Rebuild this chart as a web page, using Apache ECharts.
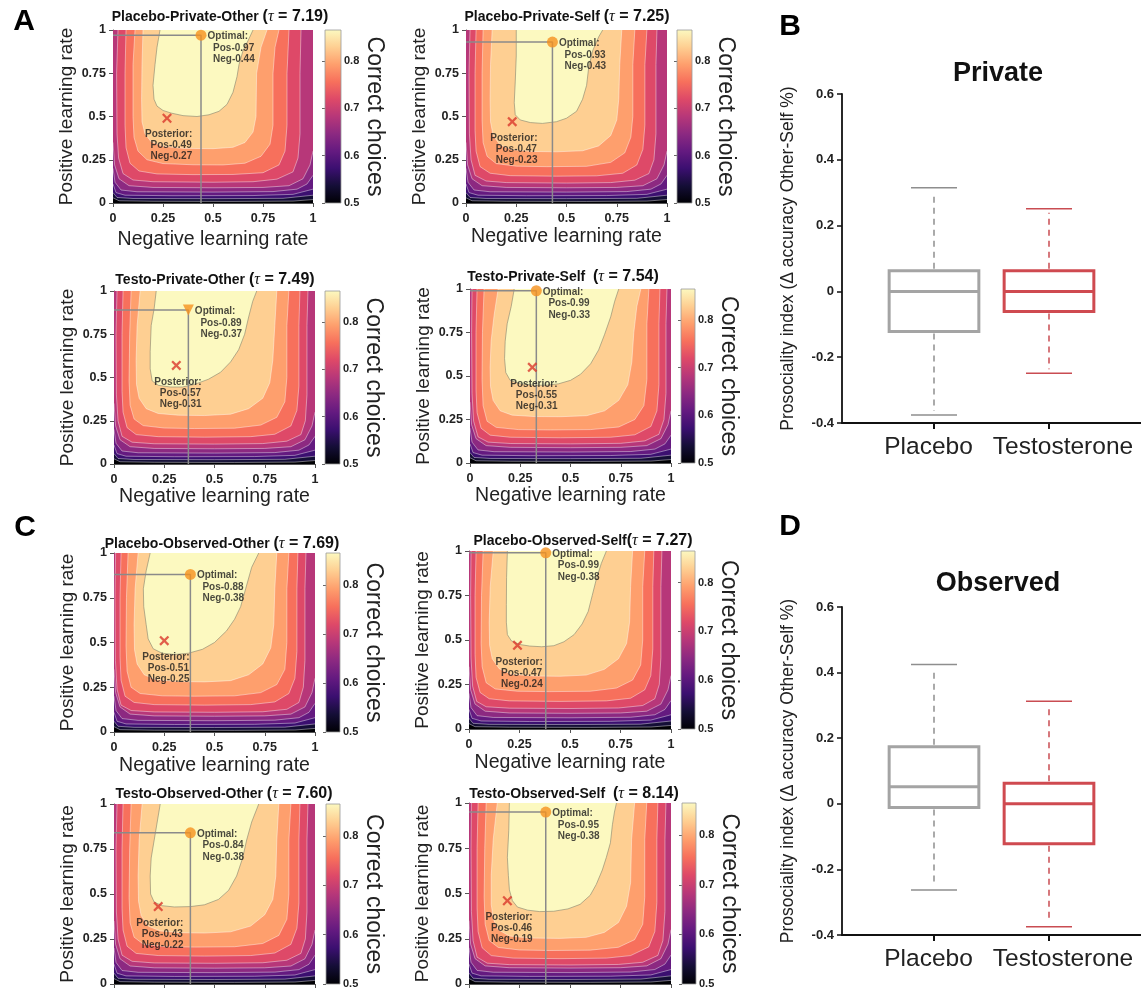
<!DOCTYPE html>
<html><head><meta charset="utf-8">
<script src="https://cdn.jsdelivr.net/npm/echarts@6/dist/echarts.min.js"></script>
<style>html,body{margin:0;padding:0;background:#fff}#c{width:1141px;height:992px}</style>
</head><body><div id="c"></div>
<script>
// ---------------- DATA ----------------
const axisTickValues = [0, 0.25, 0.5, 0.75, 1];
const colorbarRange = [0.5, 0.865];
const colorbarTicks = [0.5, 0.6, 0.7, 0.8];
const magma = ['#000004','#140e36','#3b0f70','#641a80','#8c2981','#b73779','#de4968','#f7705c','#fe9f6d','#fecf92','#fcf9c0'];

const panelNames = ['Placebo-Private-Other','Placebo-Private-Self','Testo-Private-Other','Testo-Private-Self',
                    'Placebo-Observed-Other','Placebo-Observed-Self','Testo-Observed-Other','Testo-Observed-Self'];
const panelSep = [' ',' ',' ','  ',' ','',' ','  '];
const panelTau = ['7.19','7.25','7.49','7.54','7.69','7.27','7.60','8.14'];
const optimalNeg = [0.44, 0.43, 0.37, 0.33, 0.38, 0.38, 0.38, 0.38];
const optimalPos = [0.97, 0.93, 0.89, 0.99, 0.88, 0.99, 0.84, 0.95];
const posteriorNeg = [0.27, 0.23, 0.31, 0.31, 0.25, 0.24, 0.22, 0.19];
const posteriorPos = [0.49, 0.47, 0.57, 0.55, 0.51, 0.47, 0.43, 0.46];

// contour boundaries (region >= level), [neg, pos] points; levels 1..5 shared by all panels
const lowContours = [
  [[0,1],[0,0.03],[0.03,0.013],[0.2,0.01],[0.6,0.009],[0.9,0.011],[1,0.02],[1,1]],
  [[0,1],[0,0.06],[0.02,0.032],[0.1,0.026],[0.5,0.025],[0.85,0.027],[1,0.045],[1,1]],
  [[0,1],[0,0.11],[0.015,0.06],[0.06,0.045],[0.3,0.042],[0.7,0.043],[0.9,0.05],[1,0.08],[1,1]],
  [[0,1],[0,0.2],[0.01,0.12],[0.04,0.075],[0.12,0.065],[0.5,0.063],[0.8,0.066],[0.92,0.08],[0.97,0.11],[1,0.16],[1,1]],
  [[0,1],[0,0.35],[0.008,0.22],[0.03,0.14],[0.08,0.1],[0.2,0.09],[0.5,0.088],[0.75,0.09],[0.88,0.1],[0.95,0.14],[0.985,0.22],[1,0.3],[1,1]]
];
// levels 6..10 for each panel
const contoursA1 = [
  [[0.025,1],[0.018,0.75],[0.02,0.4],[0.028,0.26],[0.05,0.17],[0.1,0.133],[0.2,0.123],[0.5,0.12],[0.7,0.123],[0.82,0.138],[0.9,0.18],[0.925,0.26],[0.935,0.4],[0.935,0.75],[0.94,1]],
  [[0.065,1],[0.06,0.75],[0.06,0.45],[0.065,0.32],[0.085,0.23],[0.13,0.185],[0.22,0.168],[0.4,0.164],[0.6,0.165],[0.75,0.175],[0.83,0.22],[0.86,0.3],[0.87,0.45],[0.87,0.75],[0.88,1]],
  [[0.11,1],[0.1,0.8],[0.1,0.5],[0.105,0.38],[0.125,0.3],[0.17,0.25],[0.25,0.228],[0.4,0.221],[0.55,0.22],[0.66,0.23],[0.74,0.27],[0.785,0.34],[0.8,0.45],[0.8,0.75],[0.81,0.9],[0.83,1]],
  [[0.15,1],[0.145,0.8],[0.143,0.6],[0.145,0.47],[0.16,0.4],[0.19,0.355],[0.25,0.328],[0.35,0.316],[0.5,0.314],[0.6,0.322],[0.66,0.35],[0.7,0.41],[0.715,0.5],[0.718,0.75],[0.74,0.9],[0.77,1]],
  [[0.235,1],[0.22,0.9],[0.21,0.8],[0.2,0.68],[0.205,0.6],[0.22,0.56],[0.25,0.535],[0.29,0.52],[0.35,0.505],[0.42,0.5],[0.48,0.51],[0.53,0.53],[0.57,0.57],[0.6,0.64],[0.62,0.73],[0.63,0.8],[0.65,0.88],[0.68,0.95],[0.7,1]]
];
const contoursA2 = [
  [[0.02,1],[0.015,0.75],[0.017,0.4],[0.025,0.25],[0.045,0.16],[0.1,0.127],[0.2,0.118],[0.5,0.115],[0.72,0.118],[0.84,0.132],[0.91,0.17],[0.935,0.25],[0.945,0.4],[0.945,0.8],[0.95,1]],
  [[0.05,1],[0.045,0.75],[0.045,0.42],[0.05,0.3],[0.07,0.21],[0.12,0.172],[0.22,0.158],[0.45,0.155],[0.65,0.157],[0.78,0.172],[0.85,0.22],[0.88,0.31],[0.89,0.45],[0.89,0.8],[0.9,1]],
  [[0.085,1],[0.08,0.75],[0.08,0.48],[0.085,0.35],[0.105,0.27],[0.15,0.228],[0.25,0.213],[0.4,0.21],[0.6,0.212],[0.72,0.235],[0.79,0.29],[0.82,0.38],[0.83,0.5],[0.83,0.8],[0.84,1]],
  [[0.13,1],[0.122,0.8],[0.12,0.6],[0.122,0.47],[0.135,0.39],[0.17,0.335],[0.23,0.308],[0.33,0.298],[0.45,0.296],[0.58,0.302],[0.66,0.33],[0.72,0.39],[0.75,0.48],[0.76,0.6],[0.765,0.8],[0.775,1]],
  [[0.25,1],[0.25,0.85],[0.245,0.7],[0.24,0.58],[0.245,0.51],[0.27,0.48],[0.32,0.465],[0.38,0.46],[0.45,0.47],[0.5,0.49],[0.55,0.53],[0.58,0.6],[0.6,0.68],[0.61,0.78],[0.63,0.88],[0.66,0.96],[0.68,1]]
];
const contoursA3 = [
  [[0.015,1],[0.01,0.75],[0.012,0.4],[0.02,0.25],[0.04,0.16],[0.09,0.126],[0.2,0.117],[0.5,0.115],[0.74,0.118],[0.86,0.132],[0.93,0.17],[0.952,0.25],[0.96,0.4],[0.96,0.8],[0.965,1]],
  [[0.045,1],[0.04,0.75],[0.04,0.42],[0.045,0.3],[0.065,0.21],[0.11,0.17],[0.22,0.158],[0.45,0.155],[0.68,0.158],[0.8,0.172],[0.88,0.22],[0.91,0.31],[0.92,0.45],[0.92,0.8],[0.925,1]],
  [[0.085,1],[0.078,0.75],[0.075,0.48],[0.08,0.34],[0.1,0.26],[0.145,0.222],[0.25,0.208],[0.4,0.205],[0.6,0.207],[0.73,0.225],[0.81,0.27],[0.85,0.36],[0.86,0.5],[0.86,0.8],[0.87,1]],
  [[0.13,1],[0.115,0.8],[0.11,0.6],[0.112,0.46],[0.125,0.38],[0.16,0.32],[0.22,0.292],[0.32,0.282],[0.45,0.28],[0.58,0.288],[0.67,0.32],[0.74,0.38],[0.775,0.47],[0.79,0.6],[0.8,0.8],[0.81,1]],
  [[0.21,1],[0.2,0.9],[0.185,0.8],[0.18,0.65],[0.18,0.55],[0.19,0.48],[0.22,0.455],[0.28,0.445],[0.34,0.445],[0.4,0.46],[0.47,0.49],[0.53,0.53],[0.58,0.59],[0.62,0.66],[0.65,0.75],[0.67,0.85],[0.69,0.94],[0.71,1]]
];
const contoursA4 = [
  [[0.01,1],[0.008,0.75],[0.01,0.4],[0.018,0.24],[0.04,0.15],[0.09,0.12],[0.2,0.112],[0.5,0.11],[0.75,0.113],[0.87,0.127],[0.94,0.165],[0.965,0.25],[0.975,0.4],[0.975,0.8],[0.98,1]],
  [[0.035,1],[0.03,0.75],[0.03,0.42],[0.035,0.29],[0.055,0.2],[0.1,0.16],[0.2,0.148],[0.45,0.145],[0.7,0.148],[0.82,0.162],[0.9,0.21],[0.93,0.3],[0.94,0.45],[0.94,0.8],[0.945,1]],
  [[0.07,1],[0.062,0.75],[0.06,0.48],[0.065,0.33],[0.085,0.24],[0.13,0.205],[0.24,0.192],[0.4,0.19],[0.6,0.192],[0.74,0.207],[0.82,0.25],[0.865,0.33],[0.88,0.48],[0.88,0.8],[0.89,1]],
  [[0.14,1],[0.12,0.85],[0.105,0.7],[0.1,0.55],[0.102,0.44],[0.115,0.36],[0.15,0.3],[0.21,0.275],[0.32,0.267],[0.45,0.266],[0.58,0.272],[0.67,0.3],[0.74,0.36],[0.785,0.45],[0.805,0.58],[0.815,0.75],[0.83,0.9],[0.85,1]],
  [[0.22,1],[0.205,0.9],[0.185,0.8],[0.175,0.7],[0.172,0.6],[0.178,0.52],[0.2,0.475],[0.25,0.455],[0.32,0.447],[0.38,0.447],[0.44,0.455],[0.5,0.475],[0.55,0.51],[0.6,0.57],[0.64,0.65],[0.67,0.74],[0.7,0.84],[0.72,0.93],[0.74,1]]
];
const contoursC1 = [
  [[0.008,1],[0.005,0.75],[0.007,0.4],[0.015,0.24],[0.035,0.15],[0.085,0.12],[0.2,0.112],[0.5,0.11],[0.74,0.113],[0.86,0.127],[0.92,0.165],[0.942,0.25],[0.95,0.4],[0.95,0.8],[0.955,1]],
  [[0.035,1],[0.03,0.75],[0.03,0.42],[0.035,0.29],[0.055,0.2],[0.1,0.165],[0.2,0.153],[0.45,0.15],[0.68,0.153],[0.8,0.168],[0.87,0.215],[0.9,0.3],[0.91,0.45],[0.91,0.8],[0.915,1]],
  [[0.07,1],[0.062,0.75],[0.06,0.48],[0.065,0.34],[0.085,0.25],[0.13,0.215],[0.24,0.202],[0.4,0.2],[0.6,0.202],[0.73,0.22],[0.81,0.265],[0.85,0.35],[0.86,0.5],[0.86,0.8],[0.87,1]],
  [[0.12,1],[0.105,0.8],[0.1,0.6],[0.102,0.46],[0.115,0.38],[0.15,0.32],[0.21,0.292],[0.32,0.282],[0.45,0.28],[0.58,0.287],[0.67,0.32],[0.74,0.38],[0.78,0.47],[0.795,0.6],[0.8,0.8],[0.81,1]],
  [[0.18,1],[0.16,0.9],[0.146,0.8],[0.148,0.7],[0.16,0.6],[0.17,0.52],[0.195,0.465],[0.24,0.44],[0.3,0.433],[0.37,0.44],[0.44,0.462],[0.5,0.5],[0.56,0.565],[0.6,0.63],[0.63,0.7],[0.655,0.8],[0.685,0.92],[0.72,1]]
];
const contoursC2 = [
  [[0.01,1],[0.008,0.75],[0.01,0.4],[0.018,0.24],[0.038,0.155],[0.085,0.125],[0.2,0.117],[0.5,0.115],[0.74,0.118],[0.86,0.132],[0.92,0.17],[0.942,0.25],[0.95,0.4],[0.95,0.8],[0.955,1]],
  [[0.035,1],[0.03,0.75],[0.03,0.42],[0.035,0.29],[0.055,0.205],[0.1,0.17],[0.2,0.158],[0.45,0.155],[0.68,0.158],[0.8,0.173],[0.87,0.22],[0.9,0.3],[0.91,0.45],[0.91,0.8],[0.915,1]],
  [[0.07,1],[0.062,0.75],[0.06,0.48],[0.065,0.35],[0.085,0.26],[0.13,0.225],[0.24,0.212],[0.4,0.21],[0.6,0.212],[0.73,0.23],[0.81,0.275],[0.85,0.36],[0.86,0.5],[0.86,0.8],[0.87,1]],
  [[0.12,1],[0.105,0.8],[0.1,0.6],[0.102,0.47],[0.115,0.395],[0.15,0.338],[0.21,0.308],[0.32,0.298],[0.45,0.296],[0.58,0.303],[0.67,0.335],[0.74,0.395],[0.78,0.48],[0.795,0.6],[0.8,0.8],[0.81,1]],
  [[0.19,1],[0.186,0.85],[0.185,0.7],[0.185,0.6],[0.19,0.53],[0.21,0.495],[0.25,0.475],[0.3,0.466],[0.36,0.462],[0.42,0.468],[0.47,0.49],[0.52,0.53],[0.56,0.59],[0.59,0.66],[0.61,0.75],[0.63,0.84],[0.655,0.93],[0.68,1]]
];
const contoursC3 = [
  [[0.015,1],[0.01,0.75],[0.012,0.4],[0.02,0.25],[0.04,0.16],[0.09,0.126],[0.2,0.117],[0.5,0.115],[0.74,0.118],[0.86,0.132],[0.93,0.17],[0.952,0.25],[0.96,0.4],[0.96,0.8],[0.965,1]],
  [[0.045,1],[0.04,0.75],[0.04,0.42],[0.045,0.3],[0.065,0.21],[0.11,0.17],[0.22,0.158],[0.45,0.155],[0.68,0.158],[0.8,0.172],[0.88,0.22],[0.91,0.31],[0.92,0.45],[0.92,0.8],[0.925,1]],
  [[0.085,1],[0.078,0.75],[0.075,0.48],[0.08,0.34],[0.1,0.26],[0.145,0.222],[0.25,0.208],[0.4,0.205],[0.6,0.207],[0.74,0.225],[0.82,0.27],[0.86,0.36],[0.87,0.5],[0.87,0.8],[0.88,1]],
  [[0.14,1],[0.125,0.8],[0.12,0.6],[0.122,0.46],[0.135,0.38],[0.17,0.322],[0.23,0.295],[0.33,0.285],[0.45,0.283],[0.58,0.29],[0.68,0.322],[0.75,0.385],[0.79,0.47],[0.805,0.6],[0.81,0.8],[0.82,1]],
  [[0.23,1],[0.215,0.9],[0.2,0.8],[0.185,0.7],[0.18,0.6],[0.182,0.5],[0.2,0.455],[0.24,0.435],[0.3,0.428],[0.38,0.43],[0.45,0.44],[0.52,0.47],[0.57,0.52],[0.61,0.6],[0.64,0.7],[0.66,0.8],[0.685,0.9],[0.72,1]]
];
const contoursC4 = [
  [[0.012,1],[0.01,0.75],[0.012,0.4],[0.02,0.24],[0.04,0.148],[0.09,0.115],[0.2,0.107],[0.5,0.105],[0.74,0.108],[0.86,0.12],[0.935,0.158],[0.96,0.24],[0.97,0.4],[0.97,0.8],[0.975,1]],
  [[0.045,1],[0.04,0.75],[0.04,0.42],[0.045,0.29],[0.065,0.2],[0.11,0.157],[0.22,0.143],[0.45,0.14],[0.68,0.143],[0.8,0.157],[0.89,0.205],[0.92,0.29],[0.93,0.45],[0.93,0.8],[0.935,1]],
  [[0.085,1],[0.078,0.75],[0.075,0.48],[0.08,0.33],[0.1,0.24],[0.145,0.202],[0.25,0.188],[0.4,0.185],[0.6,0.187],[0.74,0.203],[0.82,0.245],[0.86,0.33],[0.87,0.48],[0.87,0.8],[0.88,1]],
  [[0.14,1],[0.12,0.8],[0.11,0.6],[0.11,0.44],[0.12,0.36],[0.145,0.3],[0.2,0.265],[0.3,0.254],[0.45,0.252],[0.58,0.258],[0.67,0.285],[0.74,0.34],[0.78,0.43],[0.8,0.56],[0.805,0.8],[0.82,1]],
  [[0.2,1],[0.197,0.85],[0.19,0.7],[0.195,0.6],[0.2,0.52],[0.215,0.46],[0.24,0.425],[0.29,0.408],[0.35,0.4],[0.42,0.402],[0.49,0.415],[0.55,0.44],[0.6,0.49],[0.63,0.55],[0.66,0.63],[0.68,0.7],[0.7,0.78],[0.71,0.88],[0.72,0.95],[0.73,1]]
];
const panelContours = [contoursA1, contoursA2, contoursA3, contoursA4, contoursC1, contoursC2, contoursC3, contoursC4];

// box plots: [min, Q1, median, Q3, max]
const boxCategories = ['Placebo', 'Testosterone'];
const privateBox = [[-0.376, -0.122, 0, 0.063, 0.315], [-0.249, -0.061, 0, 0.063, 0.251]];
const observedBox = [[-0.263, -0.011, 0.052, 0.174, 0.425], [-0.375, -0.122, 0, 0.063, 0.313]];
const boxTicks = [-0.4, -0.2, 0, 0.2, 0.4, 0.6];

// ---------------- LAYOUT / STYLE ----------------
const FONT = 'Arial, "Liberation Sans", Helvetica, sans-serif';
const panelLayout = [
  {x:113, y:30,  w:200, h:173, cb:325, cbw:16, tx:220, ty:17,  xg:27},
  {x:466, y:30,  w:201, h:173, cb:677, cbw:15, tx:567, ty:17,  xg:24},
  {x:114, y:291, w:201, h:173, cb:325, cbw:15, tx:215, ty:280, xg:19},
  {x:470, y:289, w:201, h:174, cb:681, cbw:14, tx:563, ty:277, xg:21},
  {x:114, y:553, w:201, h:179, cb:326, cbw:14, tx:222, ty:544, xg:24},
  {x:469, y:551, w:202, h:178, cb:681, cbw:14, tx:583, ty:541, xg:24},
  {x:114, y:804, w:201, h:180, cb:326, cbw:14, tx:224, ty:794, xg:24},
  {x:469, y:803, w:202, h:181, cb:682, cbw:14, tx:574, ty:794, xg:24}
];
const boxLayout = [
  {x:842, y:94, w:299, h:329, title:'Private', ty:74, data: privateBox},
  {x:842, y:607, w:299, h:328, title:'Observed', ty:584, data: observedBox}
];
const boxColors = ['#a4a4a4', '#cf4a50'];
const whiskerColors = ['#8e8e8e', '#c94c52'];
const fullSquare = [[0,0],[1,0],[1,1],[0,1]];
const crossPath = 'path://M1.6,0 L5,3.4 L8.4,0 L10,1.6 L6.6,5 L10,8.4 L8.4,10 L5,6.6 L1.6,10 L0,8.4 L3.4,5 L0,1.6 Z';

const grids = [], xAxes = [], yAxes = [], series = [], graphics = [];
const fmt = v => String(+v.toFixed(2));
const mkGrid = (x, y, w, h) => ({left:x, top:y, width:w, height:h, containLabel:false, outerBoundsMode:'none'});

panelLayout.forEach((L, p) => {
  const gi = grids.length;
  grids.push(mkGrid(L.x, L.y, L.w, L.h));
  xAxes.push({
    type:'value', gridIndex:gi, min:0, max:1, interval:0.25,
    axisLine:{lineStyle:{color:'#555', width:1}},
    axisTick:{length:4, lineStyle:{color:'#555'}},
    axisLabel:{fontSize:12.5, fontWeight:'bold', color:'#222', margin:9, fontFamily:FONT, formatter: fmt},
    splitLine:{show:false},
    name:'Negative learning rate', nameLocation:'middle', nameGap:L.xg,
    nameTextStyle:{fontSize:19.5, color:'#222', fontFamily:FONT}
  });
  yAxes.push({
    type:'value', gridIndex:gi, min:0, max:1, interval:0.25,
    axisLine:{lineStyle:{color:'#555', width:1}},
    axisTick:{length:4, lineStyle:{color:'#555'}},
    axisLabel:{fontSize:12.5, fontWeight:'bold', color:'#222', margin:7, fontFamily:FONT, formatter: fmt},
    splitLine:{show:false},
    name:'Positive learning rate', nameLocation:'middle', nameGap:37,
    nameTextStyle:{fontSize:19, color:'#222', fontFamily:FONT}
  });
  const levels = [fullSquare].concat(lowContours, panelContours[p]);
  series.push({
    type:'custom', xAxisIndex:gi, yAxisIndex:gi, clip:true, silent:true, z:1,
    data: levels.map((pts, k) => [k]),
    renderItem: (params, api) => {
      const k = api.value(0);
      const src = levels[k];
      const pts = src.map(q => api.coord(q));
      const children = [{type:'polygon', shape:{points:pts}, style:{fill:magma[k], stroke:null}}];
      if (k > 0) {
        const line = (src[0][0] === 0 && src[0][1] === 1) ? pts.slice(1, -1) : pts;
        children.push({type:'polyline', shape:{points:line},
          style:{fill:null, stroke: k === 10 ? 'rgba(130,130,110,0.85)' : 'rgba(255,255,255,0.6)', lineWidth:0.7}});
      }
      return {type:'group', children};
    }
  });
  series.push({
    type:'line', xAxisIndex:gi, yAxisIndex:gi, silent:true, z:3, symbol:'none', animation:false,
    data:[[0, optimalPos[p]], [optimalNeg[p], optimalPos[p]], [optimalNeg[p], 0]],
    lineStyle:{color:'#8a8a8a', width:1.5}
  });
  series.push({
    type:'scatter', xAxisIndex:gi, yAxisIndex:gi, silent:true, z:5, clip:false,
    symbol: p === 2 ? 'triangle' : 'circle', symbolRotate: p === 2 ? 180 : 0, symbolSize: 11,
    data:[[optimalNeg[p], optimalPos[p]]],
    itemStyle:{color:'#f5911e'},
    label:{show:true, position:[12, 1], align:'left', verticalAlign:'top',
      formatter:'Optimal:\n  Pos-' + optimalPos[p].toFixed(2) + '\n  Neg-' + optimalNeg[p].toFixed(2),
      fontSize:10, fontWeight:'bold', lineHeight:11.5, color:'#1a1a1a', fontFamily:FONT}
  });
  series.push({
    type:'scatter', xAxisIndex:gi, yAxisIndex:gi, silent:true, z:5, clip:false,
    symbol: crossPath, symbolSize: 10,
    data:[[posteriorNeg[p], posteriorPos[p]]],
    itemStyle:{color:'#d9372c'},
    label:{show:true, position:[-17, 16], align:'left', verticalAlign:'top',
      formatter:'Posterior:\n  Pos-' + posteriorPos[p].toFixed(2) + '\n  Neg-' + posteriorNeg[p].toFixed(2),
      fontSize:10, fontWeight:'bold', lineHeight:11, color:'#1a1a1a', fontFamily:FONT}
  });

  // colorbar
  const ci = grids.length;
  grids.push(mkGrid(L.cb, L.y, L.cbw, L.h));
  xAxes.push({type:'value', gridIndex:ci, min:0, max:1, show:false});
  yAxes.push({
    type:'value', gridIndex:ci, min:colorbarRange[0], max:colorbarRange[1], interval:0.1, position:'right',
    axisLine:{show:false},
    axisTick:{show:true, inside:true, length:3, lineStyle:{color:'#666'}, customValues: colorbarTicks},
    axisLabel:{fontSize:11, fontWeight:'bold', color:'#222', margin:3, fontFamily:FONT,
      customValues: colorbarTicks, formatter: v => String(+v.toFixed(1))},
    splitLine:{show:false},
    name:'Correct choices', nameLocation:'middle', nameRotate:-90, nameGap:17,
    nameTextStyle:{fontSize:23, color:'#222', fontFamily:FONT}
  });
  series.push({
    type:'custom', xAxisIndex:ci, yAxisIndex:ci, silent:true, z:2,
    data:[[0, colorbarRange[0], 1, colorbarRange[1]]],
    renderItem: (params, api) => {
      const a = api.coord([api.value(0), api.value(3)]);
      const b = api.coord([api.value(2), api.value(1)]);
      return {type:'rect', shape:{x:a[0], y:a[1], width:b[0]-a[0], height:b[1]-a[1]},
        style:{fill:new echarts.graphic.LinearGradient(0, 1, 0, 0,
          magma.map((c, i) => ({offset: i / (magma.length - 1), color: c}))),
          stroke:'#999', lineWidth:0.8}};
    }
  });

  // panel title
  graphics.push({type:'text', x:L.tx, y:L.ty, silent:true, style:{
    text:'{a|' + panelNames[p] + panelSep[p] + '}{b|(}{t|τ}{b| = ' + panelTau[p] + ')}',
    align:'center', verticalAlign:'middle', fill:'#111',
    rich:{
      a:{fontSize:14, fontWeight:'bold', fontFamily:FONT, fill:'#111'},
      b:{fontSize:16, fontWeight:'bold', fontFamily:FONT, fill:'#111'},
      t:{fontSize:16, fontStyle:'italic', fontFamily:'"Liberation Serif","DejaVu Serif",serif', fill:'#111'}
    }}});
});

// box plot panels
boxLayout.forEach((B, b) => {
  const gi = grids.length;
  grids.push(mkGrid(B.x, B.y, B.w, B.h));
  xAxes.push({
    type:'value', gridIndex:gi, min:0.2, max:2.8,
    axisLine:{onZero:false, lineStyle:{color:'#111', width:2}},
    axisTick:{length:6, lineStyle:{color:'#111', width:2}, customValues:[1, 2]},
    axisLabel:{customValues:[1, 2], hideOverlap:false, showMinLabel:true, showMaxLabel:true,
      fontSize:24.5, color:'#222', margin:12, fontFamily:FONT,
      formatter: v => Math.round(v) === 1 ? '{p|' + boxCategories[0] + '}' : '{t|' + boxCategories[1] + '}',
      rich:{p:{fontSize:24.5, fontFamily:FONT, color:'#222', padding:[0,11,0,0]},
            t:{fontSize:24.5, fontFamily:FONT, color:'#222', padding:[0,0,0,28]}}},
    splitLine:{show:false}
  });
  yAxes.push({
    type:'value', gridIndex:gi, min:-0.4, max:0.6, interval:0.2,
    axisLine:{show:true, onZero:false, lineStyle:{color:'#111', width:1.8}},
    axisTick:{show:true, length:5, lineStyle:{color:'#111', width:1.5}},
    axisLabel:{fontSize:13, fontWeight:'bold', color:'#222', margin:8, fontFamily:FONT,
      formatter: v => Math.abs(v) < 1e-9 ? '0' : v.toFixed(1)},
    splitLine:{show:false},
    name:'Prosociality index (Δ accuracy Other-Self %)', nameLocation:'middle', nameGap:45,
    nameTextStyle:{fontSize:17.5, color:'#222', fontFamily:FONT}
  });
  series.push({
    type:'custom', xAxisIndex:gi, yAxisIndex:gi, silent:true, z:3,
    data: B.data.map((d, i) => [i + 1].concat(d)),
    renderItem: (params, api) => {
      const i = params.dataIndex;
      const x = api.value(0);
      const mn = api.coord([x, api.value(1)]), q1 = api.coord([x, api.value(2)]), md = api.coord([x, api.value(3)]);
      const q3 = api.coord([x, api.value(4)]), mx = api.coord([x, api.value(5)]);
      const hw = api.size([0.39, 0])[0], cw = api.size([0.2, 0])[0];
      const cx = md[0];
      const bc = boxColors[i], wc = whiskerColors[i];
      return {type:'group', children:[
        {type:'line', shape:{x1:cx, y1:q3[1]-2, x2:cx, y2:mx[1]+4}, style:{stroke:wc, lineWidth:1.5, lineDash:[6,5]}},
        {type:'line', shape:{x1:cx, y1:q1[1]+2, x2:cx, y2:mn[1]-4}, style:{stroke:wc, lineWidth:1.5, lineDash:[6,5]}},
        {type:'line', shape:{x1:cx-cw, y1:mx[1], x2:cx+cw, y2:mx[1]}, style:{stroke:wc, lineWidth:1.5}},
        {type:'line', shape:{x1:cx-cw, y1:mn[1], x2:cx+cw, y2:mn[1]}, style:{stroke:wc, lineWidth:1.5}},
        {type:'rect', shape:{x:cx-hw, y:q3[1], width:2*hw, height:q1[1]-q3[1]}, style:{fill:'#fff', stroke:bc, lineWidth:3}},
        {type:'line', shape:{x1:cx-hw, y1:md[1], x2:cx+hw, y2:md[1]}, style:{stroke:bc, lineWidth:3}}
      ]};
    }
  });
  graphics.push({type:'text', x:998, y:B.ty, silent:true, style:{text:B.title, align:'center', verticalAlign:'middle',
    fill:'#111', font:'bold 27px ' + FONT}});
});

// panel letters
[['A', 24, 22], ['B', 790, 27], ['C', 25, 528], ['D', 790, 527]].forEach(t => {
  graphics.push({type:'text', x:t[1], y:t[2], silent:true, style:{text:t[0], align:'center', verticalAlign:'middle',
    fill:'#000', font:'bold 30px ' + FONT}});
});

const chart = echarts.init(document.getElementById('c'), null, {renderer:'canvas', width:1141, height:992});
chart.setOption({
  animation:false,
  backgroundColor:'#ffffff',
  grid: grids, xAxis: xAxes, yAxis: yAxes, series: series, graphic: graphics
});
</script>
</body></html>
